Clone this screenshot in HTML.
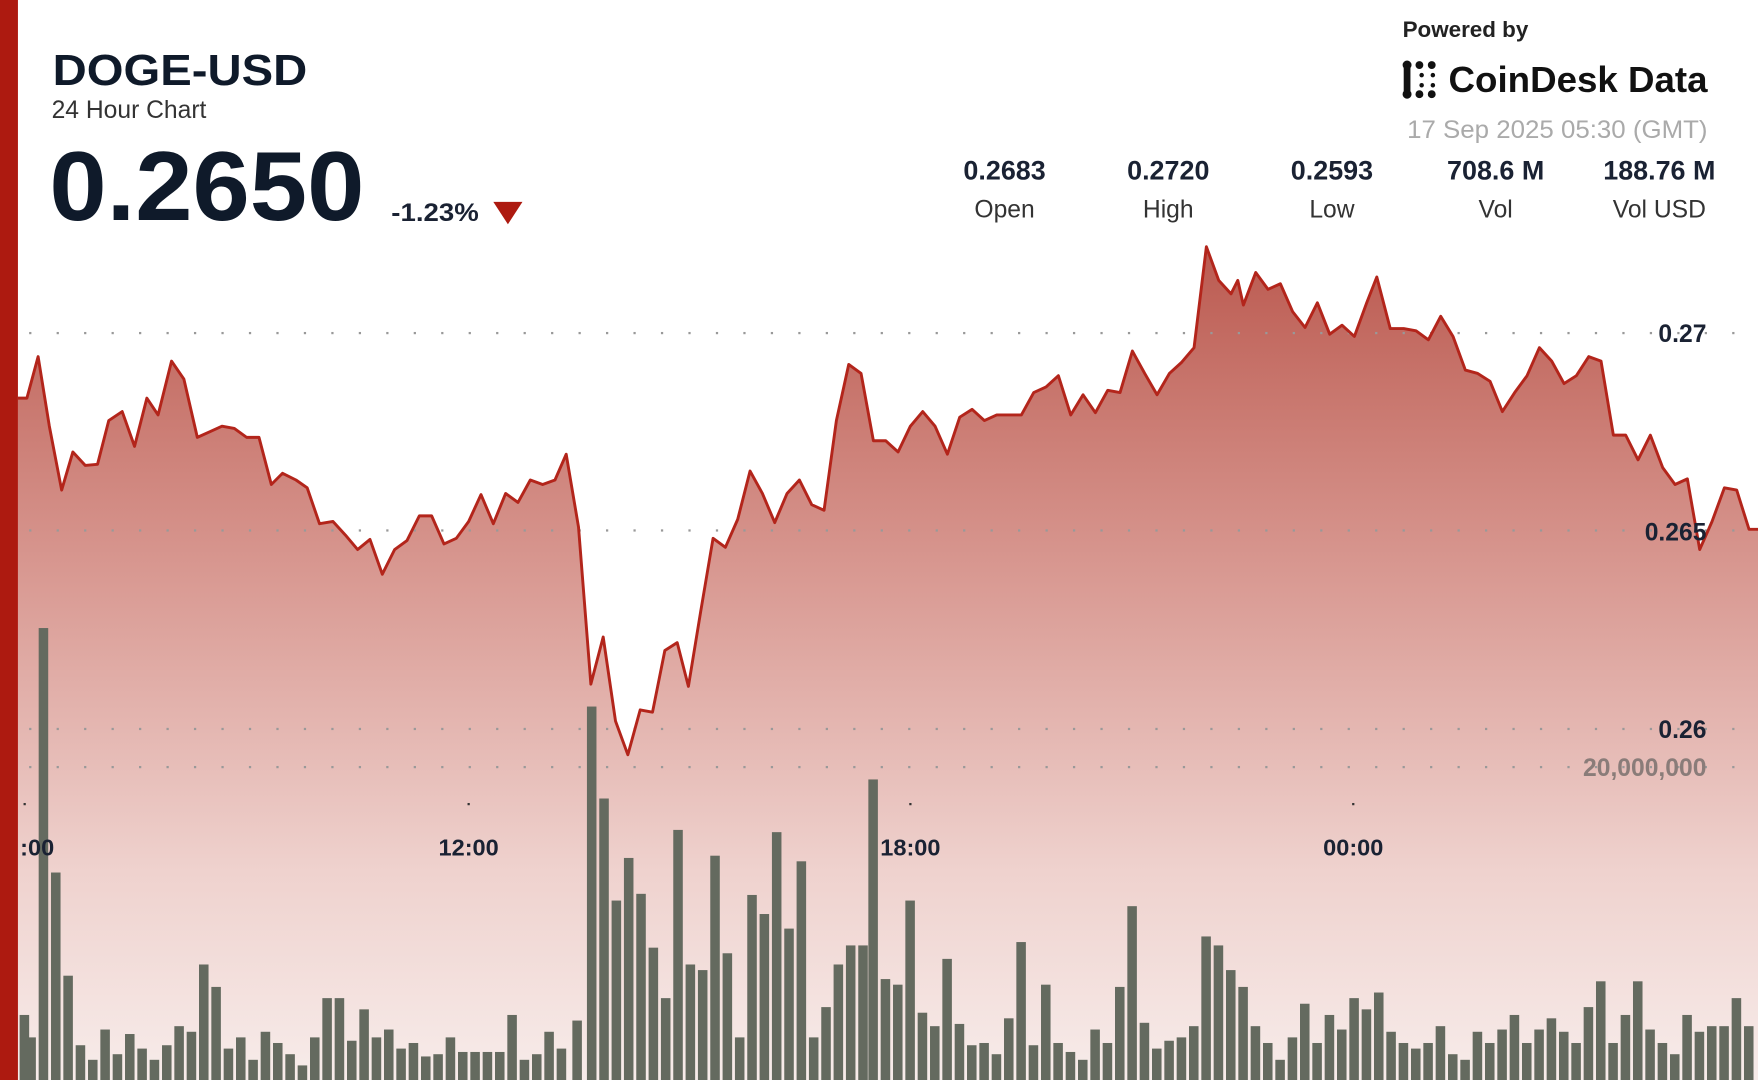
<!DOCTYPE html>
<html><head><meta charset="utf-8"><style>
html,body{margin:0;padding:0;background:#fff;}
svg{display:block;}
text{font-family:"Liberation Sans",sans-serif;}
</style></head><body>
<svg id="s" width="1758" height="1080" viewBox="0 0 1568 963" preserveAspectRatio="none" xmlns="http://www.w3.org/2000/svg">
<defs>
<linearGradient id="g" x1="0" y1="220" x2="0" y2="963" gradientUnits="userSpaceOnUse">
<stop offset="0" stop-color="#bb5a50"/>
<stop offset="0.4" stop-color="#d99a93"/>
<stop offset="0.75" stop-color="#efd2ce"/>
<stop offset="1" stop-color="#f7ecea"/>
</linearGradient>
</defs>
<rect width="1568" height="963" fill="#fff"/>
<path id="area" fill="url(#g)"/>
<g id="grid"></g>
<g id="bars" fill="#646a5f"></g>
<path id="line" fill="none" stroke="#b3251b" stroke-width="2.6" stroke-linejoin="round"/>
<rect x="0" y="0" width="16" height="963" fill="#ad1a10"/>
<g font-weight="bold" fill="#1a2233" font-size="22">
<text x="1522" y="305" text-anchor="end">0.27</text>
<text x="1522" y="482" text-anchor="end">0.265</text>
<text x="1522" y="658" text-anchor="end">0.26</text>
<text x="1522" y="692" text-anchor="end" fill="#8a7c79">20,000,000</text>
<text x="18" y="763" font-size="21">:00</text>
<text x="418" y="763" text-anchor="middle" font-size="21">12:00</text>
<text x="812" y="763" text-anchor="middle" font-size="21">18:00</text>
<text x="1207" y="763" text-anchor="middle" font-size="21">00:00</text>
</g>
<g fill="#333"><rect x="21" y="716" width="2" height="2"/><rect x="417" y="716" width="2" height="2"/><rect x="811" y="716" width="2" height="2"/><rect x="1206" y="716" width="2" height="2"/></g>
<text x="47" y="76" font-size="39" font-weight="bold" fill="#0f1a2a" textLength="227" lengthAdjust="spacingAndGlyphs">DOGE-USD</text>
<text x="46" y="105" font-size="22" fill="#333">24 Hour Chart</text>
<text x="44" y="196" font-size="88" font-weight="bold" fill="#0f1a2a" textLength="281" lengthAdjust="spacingAndGlyphs">0.2650</text>
<text x="349" y="197" font-size="22" font-weight="bold" fill="#1a2233" textLength="78" lengthAdjust="spacingAndGlyphs">-1.23%</text>
<polygon points="440,180 466,180 453,200" fill="#ad1a10"/>
<text x="1251" y="33" font-size="20" font-weight="bold" fill="#222">Powered by</text>
<g fill="#111"><rect x="1252" y="56" width="6" height="30"/><circle cx="1255" cy="58" r="4"/><circle cx="1255" cy="84" r="4"/><circle cx="1266" cy="58" r="3.5"/><circle cx="1277" cy="58" r="3.5"/><circle cx="1266" cy="84" r="3.5"/><circle cx="1277" cy="84" r="3.5"/><circle cx="1268" cy="67" r="2"/><circle cx="1268" cy="76" r="2"/><circle cx="1278" cy="67" r="2"/><circle cx="1278" cy="76" r="2"/></g>
<text x="1292" y="82" font-size="32" font-weight="bold" fill="#111" textLength="231" lengthAdjust="spacingAndGlyphs">CoinDesk Data</text>
<text x="1523" y="123" font-size="22" fill="#aaa" text-anchor="end" textLength="268" lengthAdjust="spacingAndGlyphs">17 Sep 2025 05:30 (GMT)</text>
<g font-size="24" font-weight="bold" fill="#1a2233" text-anchor="middle">
<text x="896" y="160">0.2683</text><text x="1042" y="160">0.2720</text><text x="1188" y="160">0.2593</text><text x="1334" y="160">708.6 M</text><text x="1480" y="160">188.76 M</text>
</g>
<g font-size="22" fill="#333" text-anchor="middle">
<text x="896" y="194">Open</text><text x="1042" y="194">High</text><text x="1188" y="194">Low</text><text x="1334" y="194">Vol</text><text x="1480" y="194">Vol USD</text>
</g>
</svg>
<script>
var P=[[16,355],[24,355],[34,318],[44,380],[55,437],[65,403],[76,415],[87,414],[97,375],[109,367],[120,398],[131,355],[141,370],[153,322],[164,338],[176,390],[187,385],[198,380],[209,382],[220,390],[231,390],[242,432],[252,422],[264,428],[274,435],[285,467],[297,465],[308,477],[319,490],[330,481],[341,512],[352,490],[363,482],[374,460],[385,460],[396,485],[407,480],[418,465],[429,441],[440,467],[451,440],[462,448],[473,428],[484,432],[495,428],[505,405],[516,470],[527,610],[538,568],[549,643],[560,673],[571,633],[582,635],[593,580],[604,573],[614,612],[625,545],[636,480],[647,488],[658,463],[669,420],[680,440],[691,466],[702,440],[713,428],[724,450],[735,455],[746,375],[757,325],[768,333],[779,393],[790,393],[801,403],[812,380],[823,367],[834,380],[845,405],[856,372],[867,365],[878,375],[889,370],[900,370],[911,370],[922,350],[933,345],[944,335],[955,370],[966,352],[977,368],[988,348],[999,350],[1010,313],[1021,333],[1032,352],[1043,333],[1054,323],[1065,310],[1076,220],[1087,250],[1098,262],[1104,250],[1109,272],[1120,243],[1131,258],[1142,253],[1153,278],[1164,292],[1175,270],[1186,298],[1197,290],[1208,300],[1219,270],[1228,247],[1240,293],[1252,293],[1263,295],[1274,303],[1285,282],[1296,300],[1307,330],[1318,333],[1329,340],[1340,367],[1351,350],[1362,335],[1373,310],[1384,322],[1395,342],[1406,335],[1417,318],[1428,322],[1439,388],[1450,388],[1461,410],[1472,388],[1483,417],[1494,432],[1505,427],[1516,490],[1527,465],[1538,435],[1549,437],[1560,472],[1568,472]];
var d="M"+P.map(function(p){return p[0]+","+p[1]}).join(" L");
document.getElementById('line').setAttribute('d',d);
document.getElementById('area').setAttribute('d',d+" L1568,963 L16,963 Z");
var V=[[22,905],[28,925],[39,560],[50,778],[61,870],[72,932],[83,945],[94,918],[105,940],[116,922],[127,935],[138,945],[149,932],[160,915],[171,920],[182,860],[193,880],[204,935],[215,925],[226,945],[237,920],[248,930],[259,940],[270,950],[281,925],[292,890],[303,890],[314,928],[325,900],[336,925],[347,918],[358,935],[369,930],[380,942],[391,940],[402,925],[413,938],[424,938],[435,938],[446,938],[457,905],[468,945],[479,940],[490,920],[501,935],[515,910],[528,630],[539,712],[550,803],[561,765],[572,797],[583,845],[594,890],[605,740],[616,860],[627,865],[638,763],[649,850],[660,925],[671,798],[682,815],[693,742],[704,828],[715,768],[726,925],[737,898],[748,860],[759,843],[770,843],[779,695],[790,873],[801,878],[812,803],[823,903],[834,915],[845,855],[856,913],[867,932],[878,930],[889,940],[900,908],[911,840],[922,932],[933,878],[944,930],[955,938],[966,945],[977,918],[988,930],[999,880],[1010,808],[1021,912],[1032,935],[1043,928],[1054,925],[1065,915],[1076,835],[1087,843],[1098,865],[1109,880],[1120,915],[1131,930],[1142,945],[1153,925],[1164,895],[1175,930],[1186,905],[1197,918],[1208,890],[1219,900],[1230,885],[1241,920],[1252,930],[1263,935],[1274,930],[1285,915],[1296,940],[1307,945],[1318,920],[1329,930],[1340,918],[1351,905],[1362,930],[1373,918],[1384,908],[1395,920],[1406,930],[1417,898],[1428,875],[1439,930],[1450,905],[1461,875],[1472,918],[1483,930],[1494,940],[1505,905],[1516,920],[1527,915],[1538,915],[1549,890],[1560,915]];
var ns="http://www.w3.org/2000/svg",b=document.getElementById('bars');
V.forEach(function(v){var r=document.createElementNS(ns,'rect');r.setAttribute('x',v[0]-4.5);r.setAttribute('y',v[1]);r.setAttribute('width',8.5);r.setAttribute('height',963-v[1]);b.appendChild(r);});
var g=document.getElementById('grid');
[297,473,650,684].forEach(function(y){for(var x=26;x<1568;x+=24.5){var c=document.createElementNS(ns,'rect');c.setAttribute('x',x);c.setAttribute('y',y-1);c.setAttribute('width',2);c.setAttribute('height',2);c.setAttribute('fill','#999');g.appendChild(c);}});
</script>
</body></html>
